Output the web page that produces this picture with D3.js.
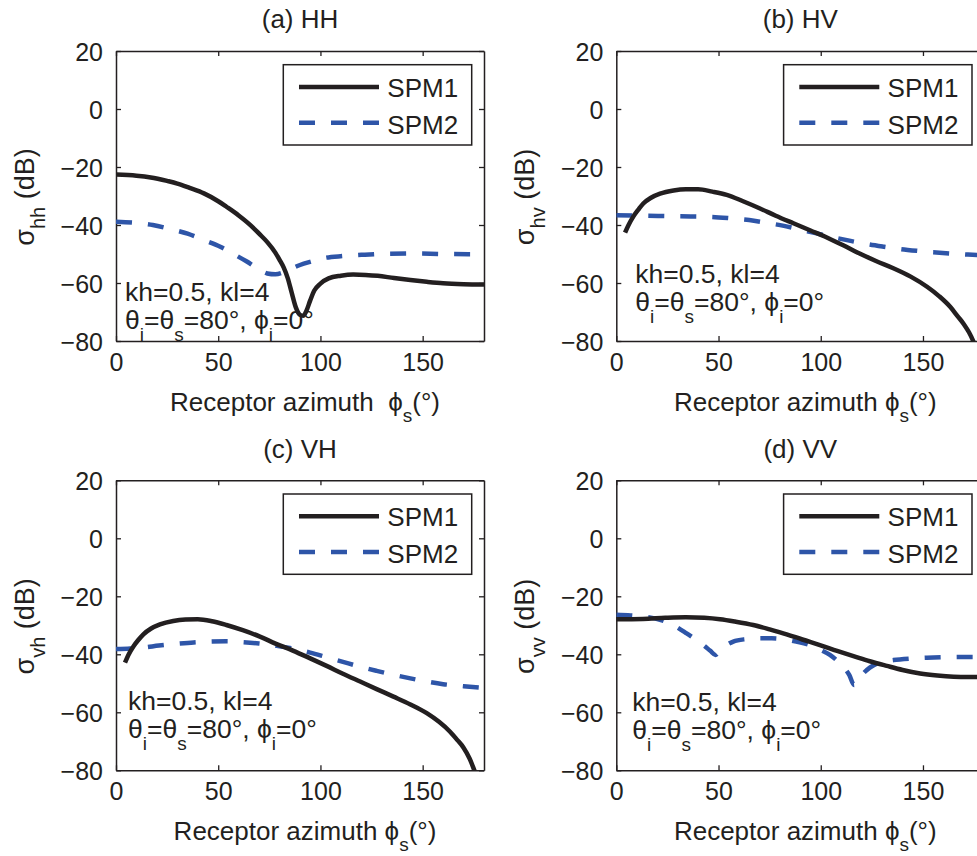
<!DOCTYPE html>
<html>
<head>
<meta charset="utf-8">
<script src="https://cdn.jsdelivr.net/npm/d3@7"></script>
<style>
  html, body { margin: 0; padding: 0; background: #fff; }
  svg text { font-family: "Liberation Sans", Arial, Helvetica, sans-serif; fill: #231f20; }
</style>
</head>
<body>
<svg id="chart" width="977" height="856"></svg>
<script>
// Bistatic scattering coefficient vs. receptor azimuth, SPM1 vs SPM2
// Each series: [phi_s (deg), sigma (dB)]

const hhSPM1 = [[0,-22.6],[10,-23],[17,-23.6],[25,-24.8],[30,-25.7],[36,-27.2],[43,-29.1],[50,-31.8],[54,-33.7],[60,-36.7],[66,-40.2],[70,-43],[74,-45.9],[78,-49.6],[80,-52],[82,-54.6],[84,-58.3],[86,-63.5],[88,-68.5],[90,-71],[91.5,-71.3],[93,-69.8],[95,-66],[97,-62.6],[100,-60.2],[104,-58.4],[110,-57.5],[116,-57.1],[122,-57.2],[128,-57.5],[136,-58.3],[144,-59],[152,-59.6],[160,-60.1],[170,-60.4],[180,-60.5]];
const hhSPM2 = [[0,-38.9],[10,-39.3],[18,-40],[26,-41.3],[35,-43],[43,-45.2],[51,-47.5],[58,-50.2],[64,-52.6],[70,-55.3],[74,-56.7],[78,-57],[82,-56.3],[86,-55],[90,-53.8],[96,-52.5],[101,-51.5],[111,-50.7],[120,-50.3],[128,-50],[144,-49.8],[160,-50],[180,-50.1]];

const hvSPM1 = [[4.3,-42.6],[6,-40],[8.3,-37.1],[11,-34.5],[13.2,-32.6],[17,-30.6],[21.4,-29.2],[28,-28.1],[34,-27.7],[40,-27.7],[47,-28.5],[54,-29.6],[62,-31.8],[70.3,-34.3],[78,-36.8],[86.6,-39.4],[95,-41.9],[103,-44.3],[111,-47],[119,-49.8],[127,-52.4],[135.5,-54.9],[144,-57.8],[152,-61.3],[158,-64.6],[163.3,-68.2],[167,-71.5],[170,-74.2],[172.5,-77],[174.7,-80.2],[176,-82.5]];
const hvSPM2 = [[0,-36.6],[15,-36.8],[30,-37],[46,-37.2],[56,-37.7],[65,-38.3],[73,-39.2],[82,-40.3],[90,-41.6],[98,-42.9],[106,-44.2],[114,-45.4],[122,-46.5],[131,-47.5],[139,-48.3],[147,-48.9],[155,-49.4],[163,-49.8],[172,-50.2],[180,-50.5]];

const vhSPM1 = [[4.4,-42.9],[6,-40.3],[8.5,-37.3],[11,-35],[13.4,-33.1],[17,-31.2],[21.5,-29.7],[28,-28.5],[34,-28],[40,-27.9],[47,-28.6],[54,-29.9],[62,-31.7],[70.4,-33.9],[78,-36.3],[86.8,-38.8],[95,-41.4],[103,-44],[111,-46.7],[119.4,-49.4],[127.5,-52],[135.7,-54.6],[144,-57.3],[152,-60.3],[158,-63.3],[163.4,-66.7],[167,-69.6],[170,-72.2],[173,-76],[175.6,-80.6],[177,-83]];
const vhSPM2 = [[0,-38.2],[7,-38],[13.4,-37.7],[21,-37],[29.7,-36.4],[38,-35.9],[46,-35.6],[54,-35.5],[62,-35.8],[70,-36.3],[78.6,-37.1],[87,-38.1],[95,-39.4],[103,-41],[111,-42.6],[119,-44.2],[127.5,-45.7],[136,-47.1],[144,-48.3],[152,-49.4],[160,-50.3],[170,-51],[180,-51.6]];

const vvSPM1 = [[0,-27.9],[13,-27.8],[24,-27.4],[34,-27.2],[43,-27.4],[50.7,-27.9],[58,-28.7],[67,-29.9],[75,-31.4],[83.3,-33.1],[91,-34.9],[99.6,-36.8],[108,-38.8],[116,-40.6],[124,-42.4],[132.3,-44],[140,-45.4],[148.6,-46.6],[157,-47.3],[165,-47.7],[172,-47.8],[180,-47.8]];
const vvSPM2 = [[0,-26.4],[7,-26.6],[13.2,-27],[21.4,-28.1],[28,-30],[34.4,-32.8],[39,-35],[42.6,-36.8],[46,-38.8],[48.5,-40.2],[50.5,-39],[53,-37.3],[57.2,-35.6],[63,-34.8],[70.3,-34.5],[76,-34.5],[81.7,-34.8],[88,-35.6],[94.7,-36.8],[100,-38.5],[104.5,-40.2],[108,-42.2],[111,-44.3],[114,-47.2],[116.3,-50.6],[118,-49],[120.8,-46.6],[124,-44.6],[127.4,-43.2],[131,-42.5],[135.5,-42],[143,-41.5],[151.9,-41.2],[160,-41],[168.2,-40.9],[180,-40.9]];

const panelTitles = ["(a) HH", "(b) HV", "(c) VH", "(d) VV"];
const polSubscripts = ["hh", "hv", "vh", "vv"];
const seriesNames = ["SPM1", "SPM2"];
const xTicks = [0, 50, 100, 150];
const yTicks = [20, 0, -20, -40, -60, -80];
const xDomain = [0, 180];
const yDomain = [-80, 20];

const seriesData = [[hhSPM1, hhSPM2], [hvSPM1, hvSPM2], [vhSPM1, vhSPM2], [vvSPM1, vvSPM2]];

// Layout
const INK = "#231f20";
const BLUE = "#2e55a8";
const PHI = "\u03d5";
const PW = 368, PH = 290;
const LW = 4.5;
const DASH = "16,16";
const panelPos = [
  { left: 116,   top: 51,    annDx: 9,  annDy: 250, xLabelGap: true },
  { left: 616.3, top: 51,    annDx: 19, annDy: 232, xLabelGap: false },
  { left: 116,   top: 480.3, annDx: 12, annDy: 230, xLabelGap: false },
  { left: 616.3, top: 480.3, annDx: 16, annDy: 231, xLabelGap: false }
];

const svg = d3.select("#chart");

// write a text element made of runs, some of them subscripts
function richText(sel, runs, size, subSize, shift) {
  let lowered = false;
  runs.forEach(([str, sub]) => {
    const t = sel.append("tspan").text(str);
    if (sub && !lowered) { t.attr("dy", shift).attr("font-size", subSize); lowered = true; }
    else if (sub) { t.attr("font-size", subSize); }
    else if (!sub && lowered) { t.attr("dy", -shift).attr("font-size", size); lowered = false; }
    else { t.attr("font-size", size); }
  });
}

panelPos.forEach((p, i) => {
  const g = svg.append("g").attr("transform", `translate(${p.left},${p.top})`);
  const x = d3.scaleLinear().domain(xDomain).range([0, PW]);
  const y = d3.scaleLinear().domain(yDomain).range([PH, 0]);

  const clipId = "clip" + i;
  g.append("clipPath").attr("id", clipId)
    .append("rect").attr("x", 0).attr("y", 0).attr("width", PW).attr("height", PH);

  // axes with inward ticks on all four sides
  const tickLen = 5;
  const axB = g.append("g").attr("transform", `translate(0,${PH})`)
    .call(d3.axisBottom(x).tickValues(xTicks).tickSizeInner(-tickLen).tickSizeOuter(0).tickPadding(12));
  const axT = g.append("g")
    .call(d3.axisTop(x).tickValues(xTicks).tickSizeInner(-tickLen).tickSizeOuter(0).tickFormat(""));
  const axL = g.append("g")
    .call(d3.axisLeft(y).tickValues(yTicks).tickSizeInner(-tickLen).tickSizeOuter(0).tickPadding(13)
      .tickFormat(d => d < 0 ? "\u2212" + Math.abs(d) : String(d)));
  const axR = g.append("g").attr("transform", `translate(${PW},0)`)
    .call(d3.axisRight(y).tickValues(yTicks).tickSizeInner(-tickLen).tickSizeOuter(0).tickFormat(""));
  [axB, axT, axL, axR].forEach(a => {
    a.select(".domain").attr("stroke", INK).attr("stroke-width", 1.5);
    a.selectAll(".tick line").attr("stroke", INK).attr("stroke-width", 1.3);
    a.selectAll("text").attr("font-size", 25).attr("fill", INK)
      .style("font-family", '"Liberation Sans", Arial, Helvetica, sans-serif');
  });
  axB.selectAll("text").attr("dy", "0.72em");
  axL.selectAll("text").attr("dy", "0.36em");

  // curves
  const line = d3.line().x(d => x(d[0])).y(d => y(d[1])).curve(d3.curveMonotoneX);
  const lines = g.append("g").attr("clip-path", `url(#${clipId})`);
  lines.append("path").datum(seriesData[i][1])
    .attr("d", line).attr("fill", "none").attr("stroke", BLUE)
    .attr("stroke-width", LW).attr("stroke-dasharray", DASH);
  lines.append("path").datum(seriesData[i][0])
    .attr("d", line).attr("fill", "none").attr("stroke", INK)
    .attr("stroke-width", LW).attr("stroke-linejoin", "round");

  // legend
  const lg = g.append("g").attr("transform", `translate(${PW - 200.7},13.7)`);
  lg.append("rect").attr("x", 0).attr("y", 0).attr("width", 188.4).attr("height", 80.3)
    .attr("fill", "#fff").attr("stroke", INK).attr("stroke-width", 1.5);
  const legendRows = [
    { name: seriesNames[0], color: INK, dash: null, ly: 22.3, ty: 32 },
    { name: seriesNames[1], color: BLUE, dash: DASH, ly: 58, ty: 69.3 }
  ];
  legendRows.forEach(r => {
    lg.append("line").attr("x1", 15.7).attr("x2", 95.7).attr("y1", r.ly).attr("y2", r.ly)
      .attr("stroke", r.color).attr("stroke-width", LW).attr("stroke-dasharray", r.dash);
    lg.append("text").attr("x", 104).attr("y", r.ty).attr("font-size", 26).text(r.name);
  });

  // annotation
  const ann = g.append("g").attr("transform", `translate(${p.annDx},${p.annDy})`);
  ann.append("text").attr("x", 0).attr("y", 0).attr("font-size", 26.5).text("kh=0.5, kl=4");
  const l2 = ann.append("text").attr("x", 0).attr("y", 28);
  richText(l2, [["\u03b8", false], ["i", true], ["=\u03b8", false], ["s", true],
                ["=80\u00b0, " + PHI, false], ["i", true], ["=0\u00b0", false]], 26.5, 19, 12);

  // title
  g.append("text").attr("x", PW / 2).attr("y", -22.7).attr("text-anchor", "middle")
    .attr("font-size", 26).text(panelTitles[i]);

  // x label
  const xl = g.append("text").attr("x", PW / 2 + 5).attr("y", PH + 69.7)
    .attr("text-anchor", "middle").style("white-space", "pre");
  richText(xl, [[(p.xLabelGap ? "Receptor azimuth  " : "Receptor azimuth ") + PHI, false],
                ["s", true], ["(\u00b0)", false]], 26, 19, 11);

  // y label
  const yl = g.append("text")
    .attr("transform", `translate(-82.5,${PH / 2 + 1}) rotate(-90)`)
    .attr("text-anchor", "middle").style("white-space", "pre");
  richText(yl, [["\u03c3", false], [polSubscripts[i], true], [" (dB)", false]], 27, 20, 11);
});
</script>
</body>
</html>
